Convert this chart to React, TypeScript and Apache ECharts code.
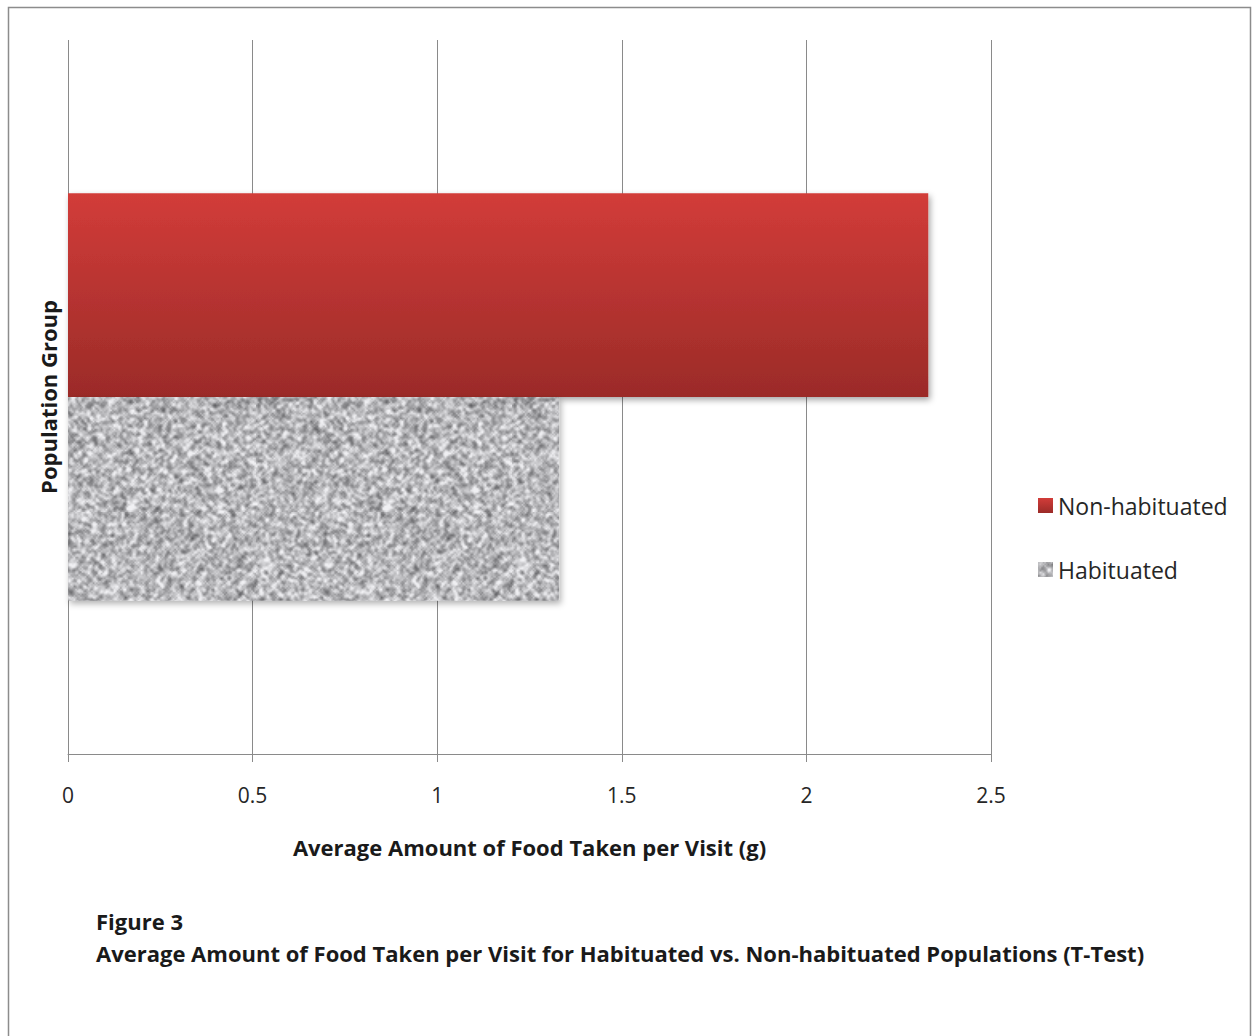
import React, { useEffect, useRef } from "react";
import * as echarts from "echarts";

// Data
const categories = ["Population Group"];
const seriesNames = ["Non-habituated", "Habituated"];
const nonHabituated = [2.33];
const habituated = [1.33];
const xMin = 0;
const xMax = 2.5;
const xStep = 0.5;

const xAxisTitle = "Average Amount of Food Taken per Visit (g)";
const yAxisTitle = "Population Group";
const figureLabel = "Figure 3";
const figureCaption =
  "Average Amount of Food Taken per Visit for Habituated vs. Non-habituated Populations (T-Test)";

const FONT = "'Open Sans', Lato, sans-serif";

// Granite-like grey texture for the habituated bar (deterministic seed).
function makeGraniteTexture(size: number): HTMLCanvasElement {
  const small = Math.round(size / 1.6);
  let seed = 20240611;
  const rnd = () => {
    seed = (seed * 1664525 + 1013904223) >>> 0;
    return seed / 4294967296;
  };
  const raw = new Float32Array(small * small);
  for (let i = 0; i < raw.length; i++) raw[i] = rnd();
  const blur = new Float32Array(small * small);
  for (let y = 0; y < small; y++) {
    for (let x = 0; x < small; x++) {
      let s = 0;
      let w = 0;
      for (let dy = -1; dy <= 1; dy++) {
        for (let dx = -1; dx <= 1; dx++) {
          const k = dx === 0 && dy === 0 ? 3 : 1;
          const xx = (x + dx + small) % small;
          const yy = (y + dy + small) % small;
          s += raw[yy * small + xx] * k;
          w += k;
        }
      }
      blur[y * small + x] = s / w;
    }
  }
  const src = document.createElement("canvas");
  src.width = small;
  src.height = small;
  const sctx = src.getContext("2d")!;
  const img = sctx.createImageData(small, small);
  for (let i = 0; i < blur.length; i++) {
    const v = (blur[i] - 0.5) * 3.0;
    let g = 184 + v * 84;
    g = Math.max(45, Math.min(240, g));
    img.data[i * 4] = g;
    img.data[i * 4 + 1] = g;
    img.data[i * 4 + 2] = g + 3;
    img.data[i * 4 + 3] = 255;
  }
  sctx.putImageData(img, 0, 0);
  const canvas = document.createElement("canvas");
  canvas.width = size;
  canvas.height = size;
  const ctx = canvas.getContext("2d")!;
  ctx.imageSmoothingEnabled = true;
  ctx.drawImage(src, 0, 0, size, size);
  return canvas;
}

export default function App() {
  const ref = useRef<HTMLDivElement>(null);

  useEffect(() => {
    document.body.style.margin = "0";
    if (!ref.current) return;
    const chart = echarts.init(ref.current, undefined, { renderer: "svg" });
    const texture = makeGraniteTexture(256);

    const redFill = new echarts.graphic.LinearGradient(0, 0, 0, 1, [
      { offset: 0, color: "#d23c39" },
      { offset: 1, color: "#9b2b28" },
    ]);
    const greyFill: any = { image: texture, repeat: "repeat" };

    const option: any = {
      animation: false,
      backgroundColor: "#ffffff",
      textStyle: { fontFamily: FONT },
      grid: { left: 68, right: 265, top: 40, bottom: 282, containLabel: false },
      xAxis: {
        type: "value",
        min: xMin,
        max: xMax,
        interval: xStep,
        name: xAxisTitle,
        nameLocation: "middle",
        nameGap: 82,
        nameTextStyle: { fontFamily: FONT, fontWeight: "bold", fontSize: 22, color: "#1a1a1a" },
        axisLine: { show: true, lineStyle: { color: "#8a8a8a", width: 1 } },
        axisTick: { show: true, length: 8, lineStyle: { color: "#8a8a8a" } },
        axisLabel: { fontFamily: FONT, fontSize: 21, color: "#262626", margin: 30 },
        splitLine: { show: true, lineStyle: { color: "#8a8a8a", width: 1 } },
      },
      yAxis: {
        type: "category",
        data: categories,
        name: yAxisTitle,
        nameLocation: "middle",
        nameGap: 9,
        nameRotate: 90,
        nameTextStyle: { fontFamily: FONT, fontWeight: "bold", fontSize: 22, color: "#1a1a1a" },
        axisLine: { show: false },
        axisTick: { show: false },
        axisLabel: { show: false },
        splitLine: { show: false },
      },
      legend: {
        orient: "vertical",
        left: 1033,
        top: 489,
        itemWidth: 15,
        itemHeight: 15,
        itemGap: 41,
        icon: "rect",
        textStyle: { fontFamily: FONT, fontSize: 23, color: "#262626", padding: [0, 0, 0, 0] },
        data: seriesNames,
      },
      series: [
        {
          name: seriesNames[0],
          type: "bar",
          data: nonHabituated,
          barGap: "0%",
          barCategoryGap: "42.9%",
          itemStyle: {
            color: redFill,
            shadowBlur: 6,
            shadowOffsetX: 2,
            shadowOffsetY: 3,
            shadowColor: "rgba(0,0,0,0.35)",
          },
        },
        {
          name: seriesNames[1],
          type: "bar",
          data: habituated,
          barGap: "0%",
          barCategoryGap: "42.9%",
          itemStyle: {
            color: greyFill,
            shadowBlur: 6,
            shadowOffsetX: 2,
            shadowOffsetY: 3,
            shadowColor: "rgba(0,0,0,0.3)",
          },
        },
      ],
      graphic: [
        {
          type: "rect",
          silent: true,
          shape: { x: 8.5, y: 7.5, width: 1242, height: 1060 },
          style: { fill: "none", stroke: "#8c8c8c", lineWidth: 1.5 },
          z: 100,
        },
        {
          type: "text",
          left: 96,
          top: 910,
          style: {
            text: figureLabel,
            fontFamily: FONT,
            fontWeight: "bold",
            fontSize: 22,
            fill: "#1a1a1a",
          },
        },
        {
          type: "text",
          left: 96,
          top: 942,
          style: {
            text: figureCaption,
            fontFamily: FONT,
            fontWeight: "bold",
            fontSize: 22,
            fill: "#1a1a1a",
          },
        },
      ],
    };

    chart.setOption(option);
    return () => chart.dispose();
  }, []);

  return <div ref={ref} style={{ width: 1256, height: 1036 }} />;
}
